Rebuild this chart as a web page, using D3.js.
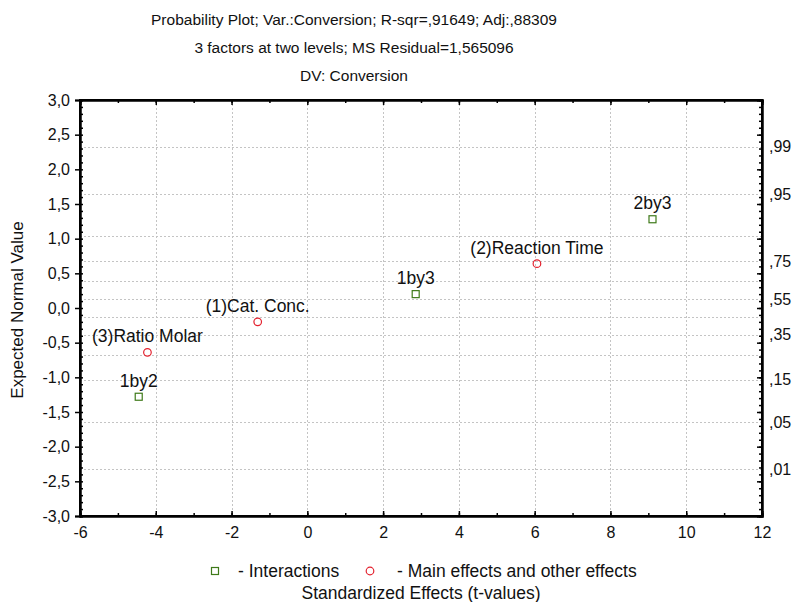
<!DOCTYPE html>
<html>
<head>
<meta charset="utf-8">
<script src="https://cdn.jsdelivr.net/npm/d3@7"></script>
<style>
  body { margin: 0; background: #fff; }
  text { font-family: "Liberation Sans", Arial, sans-serif; fill: #111; }
</style>
</head>
<body>
<script>
// effects
var effectNames = ["1by2", "(3)Ratio Molar", "(1)Cat. Conc.", "1by3", "(2)Reaction Time", "2by3"];
var effectKind = ["inter", "main", "main", "inter", "main", "inter"];
var tValues = [-4.45, -4.22, -1.31, 2.86, 6.06, 9.11];
var expectedNormal = [-1.28, -0.64, -0.20, 0.20, 0.64, 1.28];

var titleLines = [
  "Probability Plot; Var.:Conversion; R-sqr=,91649; Adj:,88309",
  "3 factors at two levels; MS Residual=1,565096",
  "DV: Conversion"
];
var xTicks = [-6, -4, -2, 0, 2, 4, 6, 8, 10, 12];
var yTicks = [-3, -2.5, -2, -1.5, -1, -0.5, 0, 0.5, 1, 1.5, 2, 2.5, 3];
var probGrid = [.01, .05, .15, .25, .35, .45, .55, .65, .75, .85, .95, .99];
var probLabels = [.01, .05, .15, .35, .55, .75, .95, .99];

var width = 796, height = 602;
var mLeft = 80, mRight = 762, mTop = 100, mBottom = 516;
var fsTitle = "15.5px", fsTick = "16px", fsLab = "17.5px";

// inverse normal cdf (Acklam)
function qnorm(p) {
  var a = [-39.69683028665376, 220.9460984245205, -275.9285104469687, 138.3577518672690, -30.66479806614716, 2.506628277459239],
      b = [-54.47609879822406, 161.5858368580409, -155.6989798598866, 66.80131188771972, -13.28068155288572],
      c = [-0.007784894002430293, -0.3223964580411365, -2.400758277161838, -2.549732539343734, 4.374664141464968, 2.938163982698783],
      d = [0.007784695709041462, 0.3224671290700398, 2.445134137142996, 3.754408661907416];
  var q, r;
  if (p < 0.02425) {
    q = Math.sqrt(-2 * Math.log(p));
    return (((((c[0]*q+c[1])*q+c[2])*q+c[3])*q+c[4])*q+c[5]) / ((((d[0]*q+d[1])*q+d[2])*q+d[3])*q+1);
  } else if (p > 1 - 0.02425) {
    q = Math.sqrt(-2 * Math.log(1 - p));
    return -(((((c[0]*q+c[1])*q+c[2])*q+c[3])*q+c[4])*q+c[5]) / ((((d[0]*q+d[1])*q+d[2])*q+d[3])*q+1);
  }
  q = p - 0.5; r = q * q;
  return (((((a[0]*r+a[1])*r+a[2])*r+a[3])*r+a[4])*r+a[5])*q / (((((b[0]*r+b[1])*r+b[2])*r+b[3])*r+b[4])*r+1);
}

var x = d3.scaleLinear().domain([-6, 12]).range([mLeft, mRight]);
var y = d3.scaleLinear().domain([-3, 3]).range([mBottom, mTop]);

var svg = d3.select("body").append("svg")
    .attr("width", width)
    .attr("height", height);

// titles
svg.selectAll(".title")
  .data(titleLines)
  .enter().append("text")
    .attr("x", 354)
    .attr("y", function(d, i) { return 25 + i * 28; })
    .attr("text-anchor", "middle")
    .style("font-size", fsTitle)
    .text(function(d) { return d; });

// grid
var grid = svg.append("g")
    .attr("stroke", "#c4c4c4")
    .attr("stroke-width", 1)
    .attr("stroke-dasharray", "2,2");

grid.selectAll(".vg")
  .data(xTicks.slice(1, -1))
  .enter().append("line")
    .attr("x1", function(d) { return Math.round(x(d)) + 0.5; })
    .attr("x2", function(d) { return Math.round(x(d)) + 0.5; })
    .attr("y1", mTop).attr("y2", mBottom);

grid.selectAll(".hg")
  .data(probGrid)
  .enter().append("line")
    .attr("x1", mLeft).attr("x2", mRight)
    .attr("y1", function(d) { return Math.round(y(qnorm(d))) + 0.5; })
    .attr("y2", function(d) { return Math.round(y(qnorm(d))) + 0.5; });

// axes
svg.append("g")
    .attr("transform", "translate(0," + mBottom + ")")
    .call(d3.axisBottom(x).tickValues(xTicks).tickSize(-5).tickPadding(11)
      .tickFormat(function(d) { return d; }));
svg.append("g")
    .attr("transform", "translate(0," + mBottom + ")")
    .call(d3.axisBottom(x).ticks(18).tickSize(-3).tickFormat(""));

svg.append("g")
    .attr("transform", "translate(0," + mTop + ")")
    .call(d3.axisTop(x).tickValues(xTicks).tickSize(-5).tickFormat(""));
svg.append("g")
    .attr("transform", "translate(0," + mTop + ")")
    .call(d3.axisTop(x).ticks(18).tickSize(-3).tickFormat(""));

var fmtY = function(d) { return d3.format(".1f")(d).replace(".", ",").replace("−", "-"); };
svg.append("g")
    .attr("transform", "translate(" + mLeft + ",0)")
    .call(d3.axisLeft(y).tickValues(yTicks).tickSize(5).tickPadding(5).tickFormat(fmtY));
svg.append("g")
    .attr("transform", "translate(" + mLeft + ",0)")
    .call(d3.axisLeft(y).ticks(60).tickSize(-3).tickFormat(""));

svg.append("g")
    .attr("transform", "translate(" + mRight + ",0)")
    .call(d3.axisRight(y).ticks(60).tickSize(-3).tickFormat(""));
svg.append("g")
    .attr("transform", "translate(" + mRight + ",0)")
    .call(d3.axisRight(y).tickValues(yTicks).tickSize(-5).tickFormat(""));

// probability labels on the right
svg.selectAll(".plab")
  .data(probLabels)
  .enter().append("text")
    .attr("x", 769)
    .attr("y", function(d) { return y(qnorm(d)); })
    .attr("dy", "0.35em")
    .style("font-size", fsTick)
    .text(function(d) { return d3.format(".2f")(d).replace("0.", ","); });

svg.selectAll(".domain").attr("stroke", "#000").attr("stroke-width", 2);
svg.selectAll(".tick line").attr("stroke", "#000").attr("stroke-width", 1.5);
svg.selectAll(".tick text")
    .style("font-size", fsTick)
    .style("font-family", "'Liberation Sans', Arial, sans-serif")
    .attr("fill", "#111");

// frame
svg.append("rect")
    .attr("x", mLeft).attr("y", mTop)
    .attr("width", mRight - mLeft).attr("height", mBottom - mTop)
    .attr("fill", "none").attr("stroke", "#000").attr("stroke-width", 2);

// points
var pts = effectNames.map(function(n, i) {
  return {name: n, kind: effectKind[i], t: tValues[i], z: expectedNormal[i]};
});

svg.selectAll(".sq")
  .data(pts.filter(function(d) { return d.kind == "inter"; }))
  .enter().append("rect")
    .attr("x", function(d) { return x(d.t) - 3.5; })
    .attr("y", function(d) { return y(d.z) - 3.5; })
    .attr("width", 7).attr("height", 7)
    .attr("fill", "none").attr("stroke", "#3f7a1a").attr("stroke-width", 1.2);

svg.selectAll(".ci")
  .data(pts.filter(function(d) { return d.kind == "main"; }))
  .enter().append("circle")
    .attr("cx", function(d) { return x(d.t); })
    .attr("cy", function(d) { return y(d.z); })
    .attr("r", 3.8)
    .attr("fill", "none").attr("stroke", "#e3222f").attr("stroke-width", 1.2);

// labels above the points
svg.selectAll(".lab")
  .data(pts)
  .enter().append("text")
    .attr("x", function(d) { return x(d.t); })
    .attr("y", function(d) { return y(d.z) - 10; })
    .attr("text-anchor", "middle")
    .style("font-size", fsLab)
    .text(function(d) { return d.name; });

// y axis title
svg.append("text")
    .attr("transform", "translate(23,310) rotate(-90)")
    .attr("text-anchor", "middle")
    .style("font-size", "17px")
    .text("Expected Normal Value");

// legend
svg.append("rect")
    .attr("x", 211.5).attr("y", 567.5)
    .attr("width", 7).attr("height", 7)
    .attr("fill", "none").attr("stroke", "#3f7a1a").attr("stroke-width", 1.2);
svg.append("text")
    .attr("x", 238).attr("y", 577)
    .style("font-size", fsLab)
    .text("- Interactions");
svg.append("circle")
    .attr("cx", 370).attr("cy", 571).attr("r", 3.8)
    .attr("fill", "none").attr("stroke", "#e3222f").attr("stroke-width", 1.2);
svg.append("text")
    .attr("x", 397).attr("y", 577)
    .style("font-size", fsLab)
    .text("- Main effects and other effects");

svg.append("text")
    .attr("x", 421).attr("y", 599)
    .attr("text-anchor", "middle")
    .style("font-size", fsLab)
    .text("Standardized Effects (t-values)");
</script>
</body>
</html>
